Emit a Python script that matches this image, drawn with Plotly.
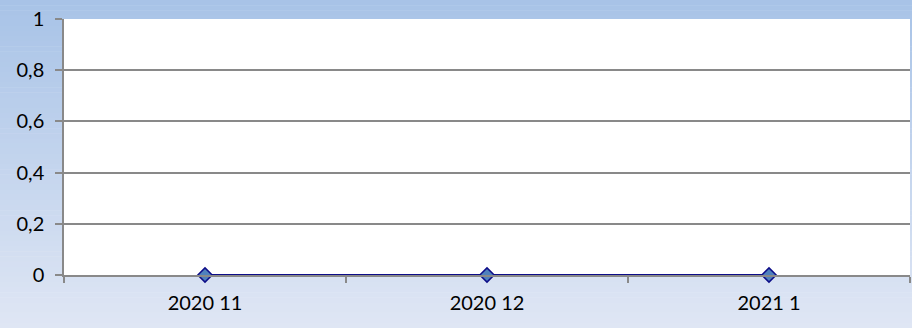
import plotly.graph_objects as go

# Monthly series
months = ["2020 11", "2020 12", "2021 1"]
values = [0, 0, 0]

y_ticks = [0, 0.2, 0.4, 0.6, 0.8, 1]

W, H = 912, 328
M_L, M_R, M_T, M_B = 64, 2, 19, 53

fig = go.Figure()

fig.add_trace(go.Scatter(
    x=months, y=values,
    mode="lines+markers",
    line=dict(color="#0d0d88", width=2.2),
    marker=dict(symbol="diamond", size=11, color="#4f81bd",
                line=dict(color="#0d0d88", width=1.5)),
    cliponaxis=False,
    showlegend=False,
))

# Vertical gradient behind the chart, built from thin horizontal bands
top_rgb = (168, 195, 231)
bot_rgb = (223, 230, 244)
n = 64
pw = W - M_L - M_R
ph = H - M_T - M_B
shapes = []
for i in range(n):
    t = i / (n - 1)
    c = tuple(round(a + (b - a) * t) for a, b in zip(top_rgb, bot_rgb))
    y_top_px = H * i / n
    y_bot_px = H * (i + 1) / n + 0.6
    shapes.append(dict(
        type="rect", xref="paper", yref="paper", layer="below",
        x0=-M_L / pw - 0.01, x1=1 + M_R / pw + 0.01,
        y0=(H - M_B - y_bot_px) / ph, y1=(H - M_B - y_top_px) / ph,
        fillcolor="rgb(%d,%d,%d)" % c, line=dict(width=0),
    ))
# White plotting area
shapes.append(dict(type="rect", xref="paper", yref="paper", layer="below",
                   x0=0, x1=1, y0=0, y1=1, fillcolor="white",
                   line=dict(width=0)))

font_family = "Lato, 'Open Sans', sans-serif"

fig.update_layout(
    width=W, height=H,
    margin=dict(l=M_L, r=M_R, t=M_T, b=M_B),
    paper_bgcolor="rgba(0,0,0,0)",
    plot_bgcolor="rgba(0,0,0,0)",
    separators=", ",
    shapes=shapes,
    font=dict(family=font_family, size=20, color="#000000"),
    xaxis=dict(
        type="category",
        range=[-0.5, len(months) - 0.5],
        tickson="boundaries",
        ticks="outside", ticklen=6, tickwidth=1.5, tickcolor="#898989",
        showgrid=False, zeroline=False,
        showline=True, linecolor="#898989", linewidth=1.5,
        ticklabelstandoff=9,
    ),
    yaxis=dict(
        range=[0, 1],
        tickvals=y_ticks,
        ticks="outside", ticklen=7, tickwidth=1.5, tickcolor="#898989",
        showgrid=True, gridcolor="#898989", gridwidth=1.5,
        zeroline=False,
        showline=True, linecolor="#898989", linewidth=1.5,
        ticklabelstandoff=7,
    ),
)

fig.write_html("out.html")
